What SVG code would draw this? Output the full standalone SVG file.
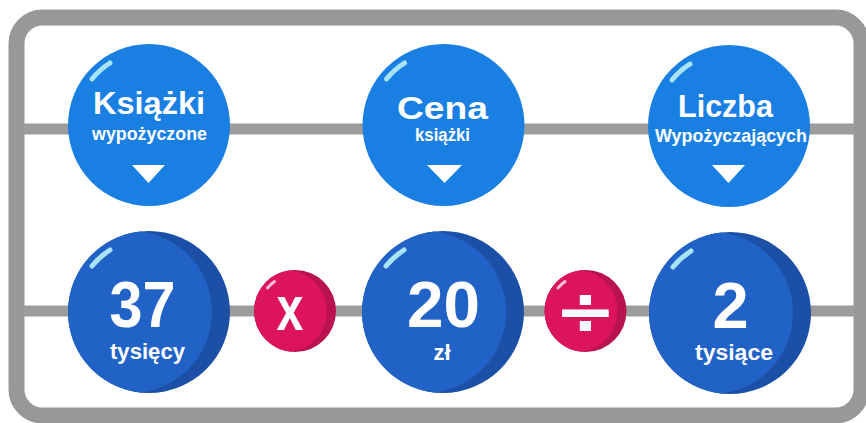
<svg xmlns="http://www.w3.org/2000/svg" width="866" height="423" viewBox="0 0 866 423">
<style>
.frame{fill:none;stroke:#989898;stroke-width:16}
.line{stroke:#9c9c9c;stroke-width:11;fill:none}
.top{fill:#1a7fe3}
.bdark{fill:#1b50a6}
.blight{fill:#2162c6}
.pdark{fill:#b8124f}
.plight{fill:#dc145e}
.hl{fill:none;stroke:#a9e3f6;stroke-width:5;stroke-linecap:round}
.hlp{fill:none;stroke:#f6c0d3;stroke-width:3;stroke-linecap:round}
.tri{fill:#ffffff}
.t{font-family:"Liberation Sans",Arial,sans-serif;font-weight:bold;fill:#ffffff;text-anchor:middle}
</style>
<rect width="866" height="423" fill="#ffffff"/>
<rect class="frame" x="16.5" y="17.5" width="845" height="398" rx="26"/>
<g id="connectors">
<line class="line" x1="24" y1="129" x2="854" y2="129"/>
<line class="line" x1="24" y1="311" x2="854" y2="311"/>
</g>
<g id="node-ksiazki">
<circle class="top" cx="149" cy="125" r="81"/>
<path class="hl" d="M92,79 A73,73 0 0 1 110,63"/>
<text class="t" x="149" y="114" font-size="31" textLength="112" lengthAdjust="spacingAndGlyphs">Książki</text>
<text class="t" x="149.5" y="140" font-size="19" textLength="115" lengthAdjust="spacingAndGlyphs">wypożyczone</text>
<polygon class="tri" points="132,165 165,165 148.5,183"/>
</g>
<g id="node-cena">
<circle class="top" cx="443.5" cy="125" r="81"/>
<path class="hl" d="M386.5,79 A73,73 0 0 1 404.5,63"/>
<text class="t" x="442.5" y="119" font-size="31" textLength="91" lengthAdjust="spacingAndGlyphs">Cena</text>
<text class="t" x="442.5" y="141" font-size="18" textLength="55" lengthAdjust="spacingAndGlyphs">książki</text>
<polygon class="tri" points="427,165 462,165 444.5,183"/>
</g>
<g id="node-liczba">
<circle class="top" cx="729" cy="126" r="81"/>
<path class="hl" d="M672,80 A73,73 0 0 1 690,64"/>
<text class="t" x="725.5" y="117" font-size="31" textLength="95" lengthAdjust="spacingAndGlyphs">Liczba</text>
<text class="t" x="731" y="142" font-size="19" textLength="152" lengthAdjust="spacingAndGlyphs">Wypożyczających</text>
<polygon class="tri" points="712,165 745,165 728.5,183"/>
</g>
<g id="node-37">
<circle class="bdark" cx="149" cy="312" r="81"/>
<path class="blight" d="M140,231.5 A81,81 0 0 0 140,392.5 A81,81 0 0 0 140,231.5 Z"/>
<path class="hl" d="M92,266 A73,73 0 0 1 110,250"/>
<text class="t" x="142.5" y="327" font-size="65" textLength="66" lengthAdjust="spacingAndGlyphs">37</text>
<text class="t" x="147.5" y="359" font-size="22" textLength="75" lengthAdjust="spacingAndGlyphs">tysięcy</text>
</g>
<g id="node-times">
<circle class="pdark" cx="295" cy="311" r="41"/>
<path class="plight" d="M290.5,270.25 A41,41 0 0 0 290.5,351.75 A41,41 0 0 0 290.5,270.25 Z"/>
<path class="hlp" d="M267.5,288 A36,36 0 0 1 274.5,281.5"/>
<text class="t" transform="translate(290,330) scale(1.05,1.38)" x="0" y="0" font-size="46">x</text>
</g>
<g id="node-20">
<circle class="bdark" cx="443" cy="312" r="81"/>
<path class="blight" d="M434,231.5 A81,81 0 0 0 434,392.5 A81,81 0 0 0 434,231.5 Z"/>
<path class="hl" d="M386,266 A73,73 0 0 1 404,250"/>
<text class="t" x="443.5" y="327" font-size="65" textLength="73" lengthAdjust="spacingAndGlyphs">20</text>
<text class="t" x="442" y="360" font-size="22">zł</text>
</g>
<g id="node-div">
<circle class="pdark" cx="585.5" cy="311" r="41"/>
<path class="plight" d="M581,270.25 A41,41 0 0 0 581,351.75 A41,41 0 0 0 581,270.25 Z"/>
<path class="hlp" d="M558,288 A36,36 0 0 1 565,281.5"/>
<text transform="translate(585.5,313) scale(1.43,1.25)" x="0" y="17" font-family="DejaVu Sans, sans-serif" font-weight="bold" font-size="52" fill="#ffffff" text-anchor="middle">÷</text>
</g>
<g id="node-2">
<circle class="bdark" cx="730" cy="313" r="81"/>
<path class="blight" d="M721,232.5 A81,81 0 0 0 721,393.5 A81,81 0 0 0 721,232.5 Z"/>
<path class="hl" d="M673,267 A73,73 0 0 1 691,251"/>
<text class="t" x="730.5" y="328" font-size="65">2</text>
<text class="t" x="734" y="360" font-size="22" textLength="78" lengthAdjust="spacingAndGlyphs">tysiące</text>
</g>
</svg>
